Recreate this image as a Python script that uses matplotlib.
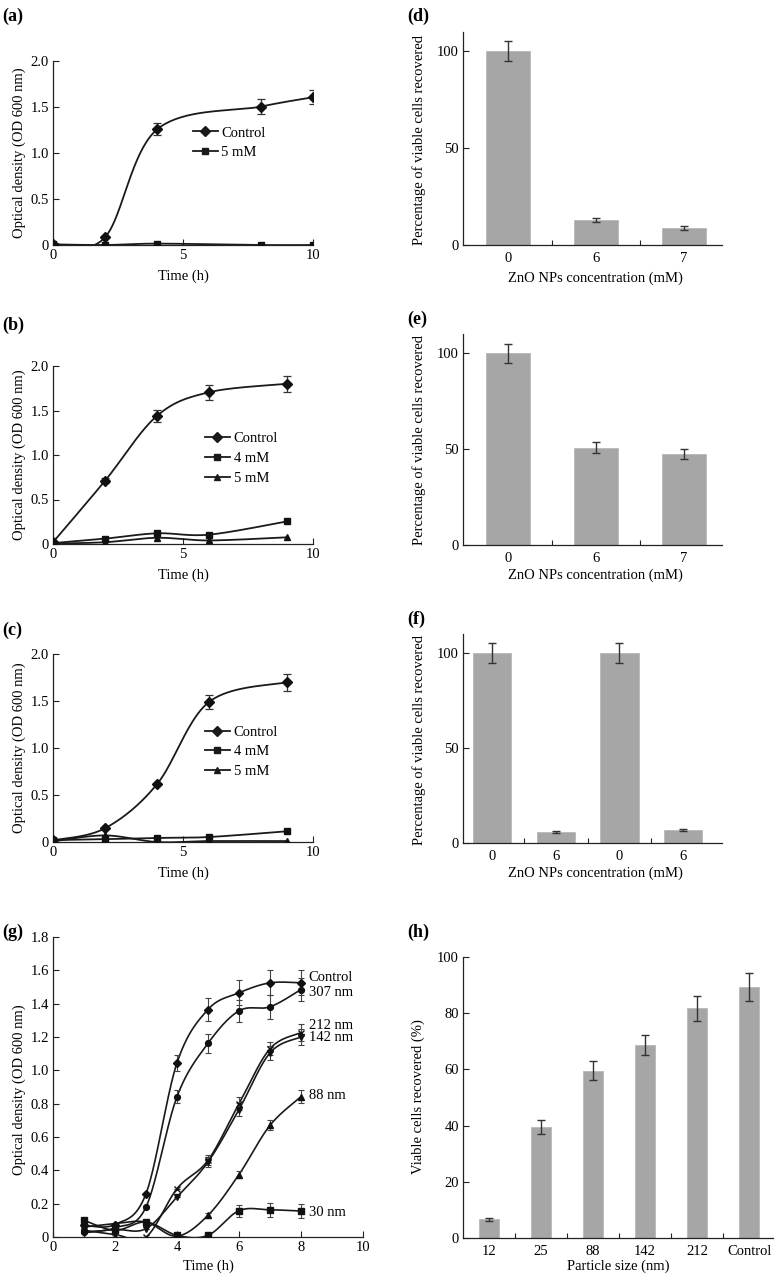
import numpy as np
import matplotlib
matplotlib.use("Agg")
import matplotlib.pyplot as plt
from matplotlib.ticker import FixedLocator, NullFormatter

plt.rcParams['font.family'] = ['Liberation Serif', 'DejaVu Serif']
plt.rcParams['font.size'] = 10.5
plt.rcParams['mathtext.fontset'] = 'stix'

W, H = 777, 1274

# ---------------- data ----------------
# (a)
a_time_ctrl = [0, 2, 4, 8, 10]
a_ctrl = [0.01, 0.083, 1.256, 1.505, 1.606]
a_ctrl_err = [0, 0, 0.065, 0.08, 0.078]
a_5mM = [0.007, 0.0, 0.015, 0.0, 0.0]

# (b)
b_time = [0, 2, 4, 6, 9]
b_ctrl = [0.02, 0.71, 1.44, 1.705, 1.80]
b_ctrl_err = [0, 0.03, 0.07, 0.085, 0.09]
b_4mM = [0.01, 0.06, 0.12, 0.105, 0.254]
b_5mM = [0.005, 0.02, 0.07, 0.04, 0.075]

# (c)
c_time = [0, 2, 4, 6, 9]
c_ctrl = [0.018, 0.146, 0.615, 1.49, 1.70]
c_ctrl_err = [0, 0, 0, 0.075, 0.09]
c_4mM = [0.02, 0.03, 0.043, 0.053, 0.114]
c_5mM = [0.007, 0.07, 0.0, 0.01, 0.01]

# (d), (e), (f)
d_conc = ['0', '6', '7']
d_vals = [100, 13.0, 8.8]
d_err = [5.2, 1.0, 0.9]
e_conc = ['0', '6', '7']
e_vals = [100, 50.8, 47.2]
e_err = [4.9, 2.7, 2.6]
f_conc = ['0', '6', '0', '6']
f_vals = [100, 5.8, 100, 7.0]
f_err = [5.5, 0.6, 5.5, 0.5]

# (g)
g_time = [1, 2, 3, 4, 5, 6, 7, 8]
g_series = ['Control', '307 nm', '212 nm', '142 nm', '88 nm', '30 nm']
g_ctrl = [0.07, 0.075, 0.26, 1.045, 1.365, 1.465, 1.525, 1.525]
g_307 = [0.03, 0.055, 0.18, 0.842, 1.162, 1.357, 1.381, 1.485]
g_212 = [0.04, 0.015, 0.0, 0.29, 0.46, 0.80, 1.13, 1.226]
g_142 = [0.025, 0.045, 0.05, 0.24, 0.45, 0.765, 1.105, 1.20]
g_88 = [0.06, 0.08, 0.09, 0.005, 0.13, 0.375, 0.67, 0.842]
g_30 = [0.10, 0.04, 0.09, 0.01, 0.01, 0.158, 0.163, 0.156]
g_ctrl_err = [0, 0, 0, 0.05, 0.07, 0.075, 0.075, 0.075]
g_307_err = [0, 0, 0, 0.04, 0.055, 0.065, 0.07, 0.07]
g_212_err = [0, 0, 0, 0, 0.03, 0.04, 0.04, 0.05]
g_142_err = [0, 0, 0, 0, 0.03, 0.04, 0.04, 0.05]
g_88_err = [0, 0, 0, 0, 0.015, 0.02, 0.03, 0.04]
g_30_err = [0, 0, 0, 0, 0, 0.035, 0.04, 0.04]

# (h)
h_sizes = ['12', '25', '88', '142', '212', 'Control']
h_vals = [6.6, 39.5, 59.6, 68.7, 81.7, 89.4]
h_err = [0.5, 2.5, 3.3, 3.6, 4.3, 5.0]

# ---------------- helpers ----------------
fig = plt.figure(figsize=(W / 100, H / 100), dpi=100)


def add_ax(l, t, r, b):
    return fig.add_axes([l / W, 1 - b / H, (r - l) / W, (b - t) / H])


def ftext(x, y, s, **kw):
    fig.text(x / W, 1 - y / H, s, **kw)


def smooth(x, y, n=40):
    P = np.column_stack([np.asarray(x, float), np.asarray(y, float)])
    out = []
    for i in range(len(P) - 1):
        p0 = P[i - 1] if i > 0 else P[i]
        p1, p2 = P[i], P[i + 1]
        p3 = P[i + 2] if i + 2 < len(P) else P[i + 1]
        c1 = p1 + (p2 - p0) / 6.0
        c2 = p2 - (p3 - p1) / 6.0
        t = np.linspace(0, 1, n)[:, None]
        seg = ((1 - t) ** 3) * p1 + 3 * ((1 - t) ** 2) * t * c1 + 3 * (1 - t) * t ** 2 * c2 + t ** 3 * p2
        out.append(seg if i == 0 else seg[1:])
    s = np.vstack(out)
    return s[:, 0], s[:, 1]


def style(ax):
    for sp in ['top', 'right']:
        ax.spines[sp].set_visible(False)
    for sp in ['left', 'bottom']:
        ax.spines[sp].set_linewidth(0.9)
        ax.spines[sp].set_color('#222222')
    ax.tick_params(direction='in', length=4, width=0.8, colors='#222222', labelsize=10.5, pad=3)
    ax.tick_params(axis='both', which='both', labelcolor='black')


def series(ax, x, y, marker, label, err=None, ms=5.5, lw=1.3):
    sx, sy = smooth(x, y)
    ax.plot(sx, sy, color='#1a1a1a', lw=lw, zorder=2)
    ax.plot(x, y, linestyle='none', marker=marker, color='#111111', ms=ms, zorder=3)
    if err is not None:
        ax.errorbar(x, y, yerr=err, fmt='none', ecolor='#333333', elinewidth=0.9, capsize=2.8, capthick=0.9, zorder=2)
    ax.plot([], [], color='#1a1a1a', lw=lw, marker=marker, ms=ms, label=label)


def od_axes(ax):
    style(ax)
    ax.set_xlim(0, 10)
    ax.set_ylim(0, 2.0)
    ax.set_xticks([0, 5, 10])
    ax.set_yticks([0, 0.5, 1.0, 1.5, 2.0])
    ax.set_yticklabels(['0', '0.5', '1.0', '1.5', '2.0'])


def od_legend(ax, anchor):
    ax.legend(loc='upper left', bbox_to_anchor=anchor, frameon=False, fontsize=10.5,
              handlelength=1.7, handletextpad=0.25, labelspacing=0.45, borderpad=0, borderaxespad=0)


BAR = '#a6a6a6'


def bar_axes(ax, cats, vals, errs, width, xlim, ylim, yticks):
    style(ax)
    pos = np.arange(len(cats))
    ax.bar(pos, vals, width=width, color=BAR, edgecolor='#b8b8b8', linewidth=0.6, zorder=2)
    ax.errorbar(pos, vals, yerr=errs, fmt='none', ecolor='#333333', elinewidth=1.0, capsize=3.2, capthick=1.0, zorder=3)
    ax.set_xlim(*xlim)
    ax.set_ylim(*ylim)
    ax.set_yticks(yticks)
    ax.set_xticks(pos)
    ax.set_xticklabels(cats)
    ax.tick_params(axis='x', which='major', length=0, pad=5)
    ax.xaxis.set_minor_locator(FixedLocator(pos[:-1] + 0.5))
    ax.xaxis.set_minor_formatter(NullFormatter())
    ax.tick_params(axis='x', which='minor', direction='in', length=3.5, width=0.8, colors='#222222')


# ---------------- (a) ----------------
ax = add_ax(53, 61, 313, 245)
series(ax, a_time_ctrl, a_ctrl, 'D', 'Control', err=a_ctrl_err, ms=5)
series(ax, a_time_ctrl, a_5mM, 's', '5 mM', ms=5)
od_axes(ax)
od_legend(ax, (0.538, 0.645))

# ---------------- (b) ----------------
ax = add_ax(53, 366, 313, 544)
series(ax, b_time, b_ctrl, 'D', 'Control', err=b_ctrl_err, ms=5)
series(ax, b_time, b_4mM, 's', '4 mM', ms=5)
series(ax, b_time, b_5mM, '^', '5 mM', ms=5)
od_axes(ax)
od_legend(ax, (0.585, 0.63))

# ---------------- (c) ----------------
ax = add_ax(53, 654, 313, 842)
series(ax, c_time, c_ctrl, 'D', 'Control', err=c_ctrl_err, ms=5)
series(ax, c_time, c_4mM, 's', '4 mM', ms=5)
series(ax, c_time, c_5mM, '^', '5 mM', ms=5)
od_axes(ax)
od_legend(ax, (0.585, 0.62))

# ---------------- (g) ----------------
ax = add_ax(53, 937, 363, 1237)
g_data = [g_ctrl, g_307, g_212, g_142, g_88, g_30]
g_errs = [g_ctrl_err, g_307_err, g_212_err, g_142_err, g_88_err, g_30_err]
g_markers = ['D', 'o', 'x', 'v', '^', 's']
g_label_y = [1.555, 1.47, 1.27, 1.198, 0.848, 0.148]
for vals, errs, mk, name, ly in zip(g_data, g_errs, g_markers, g_series, g_label_y):
    sx, sy = smooth(g_time, vals)
    ax.plot(sx, sy, color='#1a1a1a', lw=1.2, zorder=2)
    ax.plot(g_time, vals, linestyle='none', marker=mk, color='#111111', ms=4.2,
            markeredgewidth=1.0, zorder=3)
    ax.errorbar(g_time, vals, yerr=errs, fmt='none', ecolor='#444444', elinewidth=0.8,
                capsize=2.5, capthick=0.8, zorder=2)
    ax.text(8.25, ly, name, fontsize=10.5, va='center', ha='left')
style(ax)
ax.set_xlim(0, 10)
ax.set_ylim(0, 1.8)
ax.set_xticks([0, 2, 4, 6, 8, 10])
yt = [0, 0.2, 0.4, 0.6, 0.8, 1.0, 1.2, 1.4, 1.6, 1.8]
ax.set_yticks(yt)
ax.set_yticklabels(['0'] + ['%.1f' % v for v in yt[1:]])

# ---------------- (d), (e), (f) ----------------
ax = add_ax(463, 32, 722, 245)
bar_axes(ax, d_conc, d_vals, d_err, 0.5, (-0.51, 2.43), (0, 110), [0, 50, 100])
ax = add_ax(463, 334, 722, 545)
bar_axes(ax, e_conc, e_vals, e_err, 0.5, (-0.51, 2.43), (0, 110), [0, 50, 100])
ax = add_ax(463, 634, 722, 843)
bar_axes(ax, f_conc, f_vals, f_err, 0.6, (-0.455, 3.61), (0, 110), [0, 50, 100])

# ---------------- (h) ----------------
ax = add_ax(463, 957, 773, 1238)
bar_axes(ax, h_sizes, h_vals, h_err, 0.38, (-0.5, 5.46), (0, 100), [0, 20, 40, 60, 80, 100])

# ---------------- labels ----------------
left_ylab = 'Optical density (OD 600 nm)'
for yc in [153, 455, 748, 1090]:
    ftext(19, yc, left_ylab, rotation=90, ha='center', va='center', fontsize=10.5)
for yc, xc in [(276, 183), (575, 183), (873, 183), (1266, 208)]:
    ftext(xc, yc, 'Time (h)', ha='center', va='center', fontsize=10.5)

right_ylab = 'Percentage of viable cells recovered'
for yc in [140, 440, 740]:
    ftext(419, yc, right_ylab, rotation=90, ha='center', va='center', fontsize=10.5)
for yc in [278, 575, 873]:
    ftext(595, yc, 'ZnO NPs concentration (mM)', ha='center', va='center', fontsize=10.5)
ftext(418, 1097, 'Viable cells recovered (%)', rotation=90, ha='center', va='center', fontsize=10.5)
ftext(618, 1266, 'Particle size (nm)', ha='center', va='center', fontsize=10.5)

for s, x, y in [('(a)', 2, 16), ('(b)', 2, 325), ('(c)', 2, 630), ('(g)', 2, 932),
                ('(d)', 407, 16), ('(e)', 407, 319), ('(f)', 407, 619), ('(h)', 407, 932)]:
    ftext(x, y, s, ha='left', va='center', fontsize=13, fontweight='bold')

fig.savefig('out.png', dpi=100)
